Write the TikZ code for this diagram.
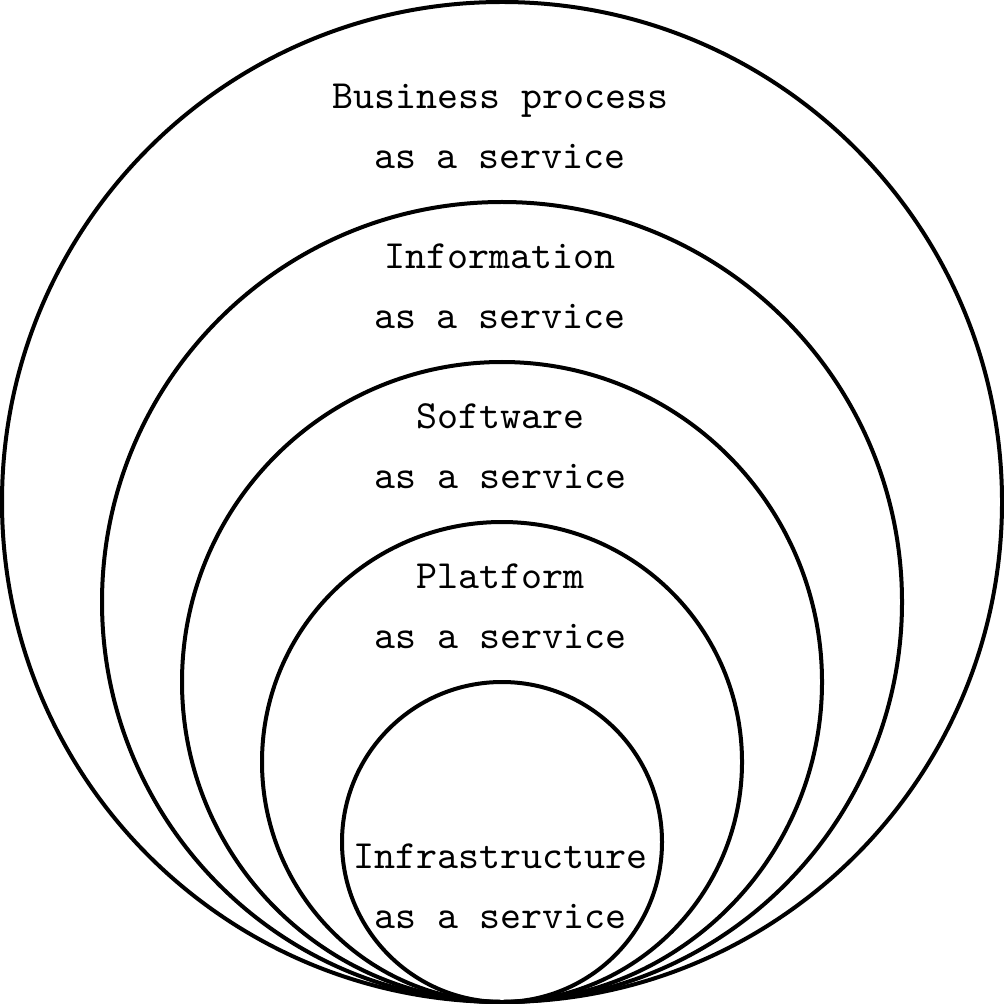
\documentclass[tikz,border=0pt]{standalone}
\begin{document}
\begin{tikzpicture}[x=0.25pt,y=-0.25pt,
  ring/.style={draw=black,line width=1pt},
  lbl/.style={align=center,inner sep=0pt,font=\fontsize{10}{15}\selectfont\ttfamily}]
\useasboundingbox (0,0) rectangle (1004,1004);
\draw[ring] (502,502) circle[radius=125pt];
\draw[ring] (502,602) circle[radius=100pt];
\draw[ring] (502,682) circle[radius=80pt];
\draw[ring] (502,762) circle[radius=60pt];
\draw[ring] (502,842) circle[radius=40pt];
\node[lbl] (bp) at (500,126) {Business process\\as a service};
\node[lbl] (ia) at (500,286) {Information\\as a service};
\node[lbl] (sa) at (500,446) {Software\\as a service};
\node[lbl] (pa) at (500,606) {Platform\\as a service};
\node[lbl] (ib) at (500,886) {Infrastructure\\as a service};
\end{tikzpicture}
\end{document}
